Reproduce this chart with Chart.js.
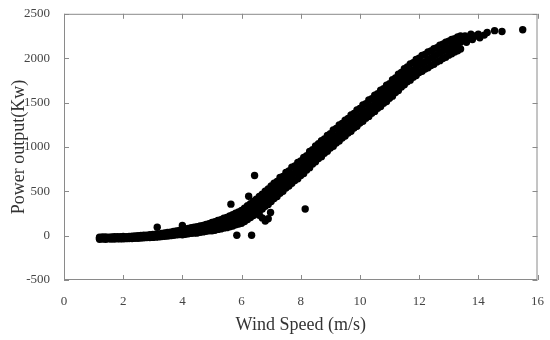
<!DOCTYPE html>
<html>
<head>
<meta charset="utf-8">
<script src="https://cdn.jsdelivr.net/npm/chart.js@4"></script>
<style>
html,body{margin:0;padding:0;background:#fff;}
#wrap{width:550px;height:340px;position:relative;}
</style>
</head>
<body>
<div id="wrap"><canvas id="c" width="550" height="340"></canvas></div>
<script>
// Tick values
const xTicks = [0, 2, 4, 6, 8, 10, 12, 14, 16];
const yTicks = [-500, 0, 500, 1000, 1500, 2000, 2500];

// Wind speed samples (m/s) along the dense band
const speeds = [1.2,1.3,1.4,1.5,1.6,1.7,1.8,1.9,2.0,2.1,2.2,2.3,2.4,2.5,2.6,2.7,2.8,2.9,
  3.0,3.1,3.2,3.3,3.4,3.5,3.6,3.7,3.8,3.9,4.0,4.1,4.2,4.3,4.4,4.5,4.6,4.7,4.8,4.9,
  5.0,5.1,5.2,5.3,5.4,5.5,5.6,5.7,5.8,5.9,6.0,6.1,6.2,6.3,6.4,6.5,6.6,6.7,6.8,6.9,
  7.0,7.1,7.2,7.3,7.4,7.5,7.6,7.7,7.8,7.9,8.0,8.1,8.2,8.3,8.4,8.5,8.6,8.7,8.8,8.9,
  9.0,9.1,9.2,9.3,9.4,9.5,9.6,9.7,9.8,9.9,10.0,10.1,10.2,10.3,10.4,10.5,10.6,10.7,10.8,10.9,
  11.0,11.1,11.2,11.3,11.4,11.5,11.6,11.7,11.8,11.9,12.0,12.1,12.2,12.3,12.4,12.5,12.6,12.7,12.8,12.9,
  13.0,13.1,13.2,13.3,13.4];

// Power output (kW): lower edge, middle and upper edge of the band
const powerLower = [-40,-38,-40,-37,-39,-38,-36,-37,-35,-34,-33,-32,-30,-29,-26,-25,-22,-21,
  -20,-17,-14,-10,-7,-5,0,4,8,12,10,16,20,26,28,30,38,42,50,54,
  55,60,70,76,85,90,100,108,122,130,140,160,182,205,226,250,275,300,330,352,
  385,418,440,478,500,538,560,590,622,640,678,700,740,766,806,832,868,890,928,950,
  988,1008,1044,1066,1100,1122,1156,1176,1212,1232,1268,1288,1324,1344,1380,1400,1436,1456,1492,1512,
  1548,1572,1612,1636,1676,1700,1734,1752,1786,1804,1838,1852,1878,1892,1918,1932,1958,1972,1996,2010,
  2034,2050,2070,2084,2104];
const powerMiddle = [-30,-26,-28,-25,-27,-24,-26,-23,-24,-21,-22,-18,-17,-14,-13,-10,-8,-6,
  -4,0,4,8,12,16,21,26,30,36,41,46,50,56,61,66,72,80,86,94,
  100,110,118,128,136,146,158,172,184,198,210,234,258,282,306,330,358,386,414,442,
  470,500,530,560,590,620,648,676,704,732,760,792,824,856,888,920,950,980,1010,1040,
  1070,1098,1126,1154,1182,1210,1238,1266,1294,1322,1350,1378,1406,1434,1462,1490,1518,1546,1574,1602,
  1630,1662,1694,1726,1758,1790,1816,1842,1868,1894,1920,1940,1960,1980,2000,2020,2040,2060,2078,2096,
  2114,2130,2146,2162,2178];
const powerUpper = [-18,-16,-15,-17,-14,-13,-12,-13,-10,-11,-8,-6,-4,-2,1,4,6,10,
  12,16,20,24,29,35,40,46,52,58,72,76,82,88,94,100,108,116,126,134,
  148,158,172,180,196,205,222,236,252,268,285,308,336,360,388,410,442,466,500,526,
  560,590,612,655,668,712,728,770,785,826,842,880,900,948,968,1010,1036,1070,1090,1130,
  1150,1192,1208,1248,1265,1302,1320,1360,1376,1416,1432,1472,1488,1528,1544,1584,1600,1640,1656,1696,
  1712,1756,1776,1820,1840,1880,1900,1936,1950,1986,2000,2032,2042,2070,2080,2108,2118,2146,2156,2180,
  2192,2210,2220,2240,2250];

// Sparse points near rated power
const tailSpeed = [13.5,13.55,13.6,13.7,13.75,13.8,13.9,14.0,14.05,14.2,14.3,14.55,14.8,15.5];
const tailPower = [2200,2250,2180,2230,2270,2210,2250,2270,2230,2260,2290,2310,2300,2320];

// Scattered outliers
const outlierSpeed = [3.15,4.0,5.64,5.84,6.24,6.34,6.44,6.6,6.7,6.8,6.9,6.98,8.15];
const outlierPower = [95,115,355,5,444,5,678,230,200,165,190,260,300];

const points = [];
speeds.forEach((s, i) => {
  points.push({x: s, y: powerLower[i]});
  points.push({x: s, y: powerMiddle[i]});
  points.push({x: s, y: powerUpper[i]});
});
tailSpeed.forEach((s, i) => points.push({x: s, y: tailPower[i]}));
outlierSpeed.forEach((s, i) => points.push({x: s, y: outlierPower[i]}));

const boxPlugin = {
  id: 'box',
  afterDraw(chart) {
    const {ctx, chartArea: a, scales: {x, y}} = chart;
    ctx.save();
    ctx.strokeStyle = '#8a8a8a';
    ctx.lineWidth = 1;
    ctx.strokeRect(a.left + 0.5, a.top + 0.5, a.right - a.left - 1, a.bottom - a.top - 1);
    const L = 5;
    ctx.beginPath();
    xTicks.forEach(v => {
      const px = Math.round(x.getPixelForValue(v)) + 0.5;
      ctx.moveTo(px, a.bottom); ctx.lineTo(px, a.bottom - L);
      ctx.moveTo(px, a.top); ctx.lineTo(px, a.top + L);
    });
    yTicks.forEach(v => {
      const py = Math.round(y.getPixelForValue(v)) + 0.5;
      ctx.moveTo(a.left, py); ctx.lineTo(a.left + L, py);
      ctx.moveTo(a.right, py); ctx.lineTo(a.right - L, py);
    });
    ctx.stroke();
    ctx.restore();
  }
};

new Chart(document.getElementById('c'), {
  type: 'scatter',
  data: {
    datasets: [{
      data: points,
      backgroundColor: '#000',
      borderWidth: 0,
      pointRadius: 3.7,
      pointHoverRadius: 3.7
    }]
  },
  options: {
    responsive: false,
    animation: false,
    events: [],
    layout: {padding: {top: 7, right: 9, left: 0, bottom: 0}},
    plugins: {legend: {display: false}, tooltip: {enabled: false}},
    scales: {
      x: {
        type: 'linear', min: 0, max: 16,
        afterFit(s) { s.height = 60; },
        afterBuildTicks(s) { s.ticks = xTicks.map(v => ({value: v})); },
        grid: {display: false},
        border: {display: false},
        ticks: {padding: 6, color: '#444', font: {family: 'Liberation Serif', size: 13},
          callback: v => String(v)},
        title: {display: true, text: 'Wind Speed (m/s)', color: '#333', padding: {top: 7},
          font: {family: 'Liberation Serif', size: 18}}
      },
      y: {
        type: 'linear', min: -500, max: 2500,
        afterFit(s) { s.width = 64; },
        afterBuildTicks(s) { s.ticks = yTicks.map(v => ({value: v})); },
        grid: {display: false},
        border: {display: false},
        ticks: {padding: 6, color: '#444', font: {family: 'Liberation Serif', size: 13},
          callback: v => String(v)},
        title: {display: true, text: 'Power output(Kw)', color: '#333', padding: {top: 8, bottom: 0},
          font: {family: 'Liberation Serif', size: 18}}
      }
    }
  },
  plugins: [boxPlugin]
});
</script>
</body>
</html>
